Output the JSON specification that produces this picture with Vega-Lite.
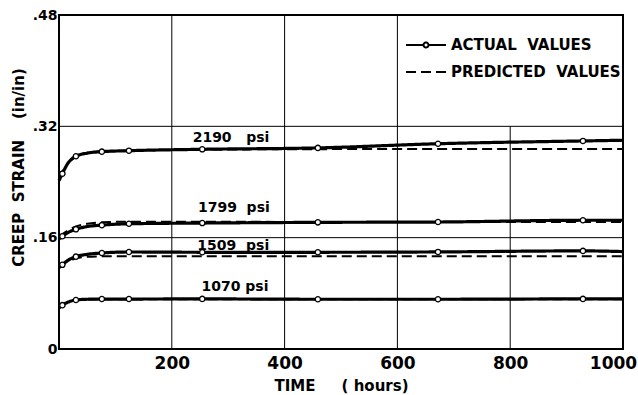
{
  "$schema": "https://vega.github.io/schema/vega-lite/v6.json",
  "width": 564,
  "height": 334,
  "autosize": "none",
  "padding": {"left": 59, "top": 15, "right": 15, "bottom": 46},
  "background": "white",
  "config": {
    "view": {"stroke": "black", "strokeWidth": 2},
    "font": "DejaVu Sans",
    "axis": {"labelFont": "DejaVu Sans", "labelFontWeight": "bold", "labelColor": "black", "titleFont": "DejaVu Sans", "titleFontWeight": "bold", "titleColor": "black", "domain": false, "ticks": false, "grid": false}
  },
  "datasets": {
    "grid": [
      {"xa": 200, "xb": 200, "ya": 0, "yb": 0.48},
      {"xa": 400, "xb": 400, "ya": 0, "yb": 0.48},
      {"xa": 600, "xb": 600, "ya": 0, "yb": 0.48},
      {"xa": 800, "xb": 800, "ya": 0, "yb": 0.32},
      {"xa": 0, "xb": 1000, "ya": 0.16, "yb": 0.16},
      {"xa": 0, "xb": 1000, "ya": 0.32, "yb": 0.32}
    ],
    "curves": [
      {"stress": "2190", "type": "ACTUAL VALUES", "t": 0, "strain": 0.242, "obs": false},
      {"stress": "2190", "type": "ACTUAL VALUES", "t": 6, "strain": 0.252, "obs": true},
      {"stress": "2190", "type": "ACTUAL VALUES", "t": 15, "strain": 0.266, "obs": false},
      {"stress": "2190", "type": "ACTUAL VALUES", "t": 30, "strain": 0.277, "obs": true},
      {"stress": "2190", "type": "ACTUAL VALUES", "t": 50, "strain": 0.2815, "obs": false},
      {"stress": "2190", "type": "ACTUAL VALUES", "t": 76, "strain": 0.2836, "obs": true},
      {"stress": "2190", "type": "ACTUAL VALUES", "t": 124, "strain": 0.285, "obs": true},
      {"stress": "2190", "type": "ACTUAL VALUES", "t": 254, "strain": 0.287, "obs": true},
      {"stress": "2190", "type": "ACTUAL VALUES", "t": 459, "strain": 0.289, "obs": true},
      {"stress": "2190", "type": "ACTUAL VALUES", "t": 672, "strain": 0.295, "obs": true},
      {"stress": "2190", "type": "ACTUAL VALUES", "t": 929, "strain": 0.299, "obs": true},
      {"stress": "2190", "type": "ACTUAL VALUES", "t": 1000, "strain": 0.300, "obs": false},
      {"stress": "2190", "type": "PREDICTED VALUES", "t": 0, "strain": 0.245, "obs": false},
      {"stress": "2190", "type": "PREDICTED VALUES", "t": 15, "strain": 0.266, "obs": false},
      {"stress": "2190", "type": "PREDICTED VALUES", "t": 30, "strain": 0.276, "obs": false},
      {"stress": "2190", "type": "PREDICTED VALUES", "t": 50, "strain": 0.282, "obs": false},
      {"stress": "2190", "type": "PREDICTED VALUES", "t": 76, "strain": 0.284, "obs": false},
      {"stress": "2190", "type": "PREDICTED VALUES", "t": 124, "strain": 0.285, "obs": false},
      {"stress": "2190", "type": "PREDICTED VALUES", "t": 254, "strain": 0.2865, "obs": false},
      {"stress": "2190", "type": "PREDICTED VALUES", "t": 459, "strain": 0.2872, "obs": false},
      {"stress": "2190", "type": "PREDICTED VALUES", "t": 700, "strain": 0.2875, "obs": false},
      {"stress": "2190", "type": "PREDICTED VALUES", "t": 1000, "strain": 0.2875, "obs": false},
      {"stress": "1799", "type": "ACTUAL VALUES", "t": 0, "strain": 0.158, "obs": false},
      {"stress": "1799", "type": "ACTUAL VALUES", "t": 6, "strain": 0.162, "obs": true},
      {"stress": "1799", "type": "ACTUAL VALUES", "t": 15, "strain": 0.167, "obs": false},
      {"stress": "1799", "type": "ACTUAL VALUES", "t": 30, "strain": 0.172, "obs": true},
      {"stress": "1799", "type": "ACTUAL VALUES", "t": 50, "strain": 0.176, "obs": false},
      {"stress": "1799", "type": "ACTUAL VALUES", "t": 76, "strain": 0.178, "obs": true},
      {"stress": "1799", "type": "ACTUAL VALUES", "t": 124, "strain": 0.180, "obs": true},
      {"stress": "1799", "type": "ACTUAL VALUES", "t": 254, "strain": 0.181, "obs": true},
      {"stress": "1799", "type": "ACTUAL VALUES", "t": 459, "strain": 0.182, "obs": true},
      {"stress": "1799", "type": "ACTUAL VALUES", "t": 672, "strain": 0.1825, "obs": true},
      {"stress": "1799", "type": "ACTUAL VALUES", "t": 929, "strain": 0.185, "obs": true},
      {"stress": "1799", "type": "ACTUAL VALUES", "t": 1000, "strain": 0.185, "obs": false},
      {"stress": "1799", "type": "PREDICTED VALUES", "t": 0, "strain": 0.162, "obs": false},
      {"stress": "1799", "type": "PREDICTED VALUES", "t": 15, "strain": 0.170, "obs": false},
      {"stress": "1799", "type": "PREDICTED VALUES", "t": 30, "strain": 0.176, "obs": false},
      {"stress": "1799", "type": "PREDICTED VALUES", "t": 50, "strain": 0.180, "obs": false},
      {"stress": "1799", "type": "PREDICTED VALUES", "t": 76, "strain": 0.182, "obs": false},
      {"stress": "1799", "type": "PREDICTED VALUES", "t": 124, "strain": 0.183, "obs": false},
      {"stress": "1799", "type": "PREDICTED VALUES", "t": 254, "strain": 0.183, "obs": false},
      {"stress": "1799", "type": "PREDICTED VALUES", "t": 459, "strain": 0.1825, "obs": false},
      {"stress": "1799", "type": "PREDICTED VALUES", "t": 1000, "strain": 0.1825, "obs": false},
      {"stress": "1509", "type": "ACTUAL VALUES", "t": 0, "strain": 0.117, "obs": false},
      {"stress": "1509", "type": "ACTUAL VALUES", "t": 6, "strain": 0.121, "obs": true},
      {"stress": "1509", "type": "ACTUAL VALUES", "t": 15, "strain": 0.127, "obs": false},
      {"stress": "1509", "type": "ACTUAL VALUES", "t": 30, "strain": 0.1327, "obs": true},
      {"stress": "1509", "type": "ACTUAL VALUES", "t": 50, "strain": 0.136, "obs": false},
      {"stress": "1509", "type": "ACTUAL VALUES", "t": 76, "strain": 0.138, "obs": true},
      {"stress": "1509", "type": "ACTUAL VALUES", "t": 124, "strain": 0.1394, "obs": true},
      {"stress": "1509", "type": "ACTUAL VALUES", "t": 254, "strain": 0.139, "obs": true},
      {"stress": "1509", "type": "ACTUAL VALUES", "t": 459, "strain": 0.139, "obs": true},
      {"stress": "1509", "type": "ACTUAL VALUES", "t": 672, "strain": 0.1395, "obs": true},
      {"stress": "1509", "type": "ACTUAL VALUES", "t": 929, "strain": 0.141, "obs": true},
      {"stress": "1509", "type": "ACTUAL VALUES", "t": 1000, "strain": 0.140, "obs": false},
      {"stress": "1509", "type": "PREDICTED VALUES", "t": 0, "strain": 0.118, "obs": false},
      {"stress": "1509", "type": "PREDICTED VALUES", "t": 15, "strain": 0.126, "obs": false},
      {"stress": "1509", "type": "PREDICTED VALUES", "t": 30, "strain": 0.130, "obs": false},
      {"stress": "1509", "type": "PREDICTED VALUES", "t": 50, "strain": 0.1325, "obs": false},
      {"stress": "1509", "type": "PREDICTED VALUES", "t": 76, "strain": 0.1332, "obs": false},
      {"stress": "1509", "type": "PREDICTED VALUES", "t": 124, "strain": 0.1334, "obs": false},
      {"stress": "1509", "type": "PREDICTED VALUES", "t": 1000, "strain": 0.1334, "obs": false},
      {"stress": "1070", "type": "ACTUAL VALUES", "t": 0, "strain": 0.059, "obs": false},
      {"stress": "1070", "type": "ACTUAL VALUES", "t": 6, "strain": 0.063, "obs": true},
      {"stress": "1070", "type": "ACTUAL VALUES", "t": 15, "strain": 0.067, "obs": false},
      {"stress": "1070", "type": "ACTUAL VALUES", "t": 30, "strain": 0.0704, "obs": true},
      {"stress": "1070", "type": "ACTUAL VALUES", "t": 50, "strain": 0.0715, "obs": false},
      {"stress": "1070", "type": "ACTUAL VALUES", "t": 76, "strain": 0.0718, "obs": true},
      {"stress": "1070", "type": "ACTUAL VALUES", "t": 124, "strain": 0.0718, "obs": true},
      {"stress": "1070", "type": "ACTUAL VALUES", "t": 254, "strain": 0.072, "obs": true},
      {"stress": "1070", "type": "ACTUAL VALUES", "t": 459, "strain": 0.0715, "obs": true},
      {"stress": "1070", "type": "ACTUAL VALUES", "t": 672, "strain": 0.0715, "obs": true},
      {"stress": "1070", "type": "ACTUAL VALUES", "t": 929, "strain": 0.072, "obs": true},
      {"stress": "1070", "type": "ACTUAL VALUES", "t": 1000, "strain": 0.072, "obs": false},
      {"stress": "1070", "type": "PREDICTED VALUES", "t": 0, "strain": 0.061, "obs": false},
      {"stress": "1070", "type": "PREDICTED VALUES", "t": 15, "strain": 0.067, "obs": false},
      {"stress": "1070", "type": "PREDICTED VALUES", "t": 30, "strain": 0.070, "obs": false},
      {"stress": "1070", "type": "PREDICTED VALUES", "t": 76, "strain": 0.0715, "obs": false},
      {"stress": "1070", "type": "PREDICTED VALUES", "t": 1000, "strain": 0.0715, "obs": false}
    ],
    "labels": [
      {"t": 305, "strain": 0.303, "text": "2190\u00a0\u00a0\u00a0psi"},
      {"t": 310, "strain": 0.2026, "text": "1799\u00a0\u00a0psi"},
      {"t": 309, "strain": 0.148, "text": "1509\u00a0\u00a0psi"},
      {"t": 312, "strain": 0.089, "text": "1070 psi"}
    ]
  },
  "layer": [
    {
      "data": {"name": "grid"},
      "mark": {"type": "rule", "color": "black", "strokeWidth": 1},
      "encoding": {
        "x": {"field": "xa", "type": "quantitative", "scale": {"domain": [0, 1000], "nice": false}, "axis": {"values": [200, 400, 600, 800, 1000], "format": "d", "labelFontSize": 17, "labelPadding": 6, "labelFlush": false, "labelOffset": {"condition": {"test": "datum.value == 1000", "value": -10}, "value": 0}, "title": "TIME\u00a0\u00a0\u00a0\u00a0\u00a0(\u00a0hours)", "titleFontSize": 15, "titlePadding": 7}},
        "x2": {"field": "xb"},
        "y": {"field": "ya", "type": "quantitative", "scale": {"domain": [0, 0.48], "nice": false}, "axis": {"values": [0, 0.16, 0.32, 0.48], "labelExpr": "datum.value == 0 ? '0' : replace(format(datum.value, '.2f'), '0.', '.')", "labelFontSize": 14, "labelPadding": 2, "title": "CREEP\u00a0\u00a0STRAIN\u00a0\u00a0\u00a0\u00a0(in/in)", "titleFontSize": 15, "titleX": -41, "titleY": 152, "titleAngle": -90, "titleBaseline": "middle", "titleAlign": "center"}},
        "y2": {"field": "yb"}
      }
    },
    {
      "data": {"name": "curves"},
      "transform": [{"filter": "datum.type == 'ACTUAL VALUES'"}],
      "mark": {"type": "line", "interpolate": "monotone", "color": "black", "strokeWidth": 3.2},
      "encoding": {
        "x": {"field": "t", "type": "quantitative"},
        "y": {"field": "strain", "type": "quantitative"},
        "detail": {"field": "stress"},
        "strokeDash": {"field": "type", "type": "nominal", "scale": {"domain": ["ACTUAL VALUES", "PREDICTED VALUES"], "range": [[1, 0], [10, 5]]},
          "legend": {"title": null, "orient": "none", "legendX": 356, "legendY": 19, "symbolSize": 400, "symbolStrokeWidth": 2, "symbolStrokeColor": "black", "labelFont": "DejaVu Sans", "labelFontWeight": "bold", "labelFontSize": 15, "labelColor": "black", "labelLimit": 300, "rowPadding": 8, "labelOffset": 14,
            "labelExpr": "datum.label == 'ACTUAL VALUES' ? 'ACTUAL\u00a0\u00a0VALUES' : 'PREDICTED\u00a0\u00a0VALUES'",
            "encode": {"symbols": {"update": {"shape": {"signal": "datum.value == 'ACTUAL VALUES' ? 'M-2,0H-0.25M0.25,0H2M-0.25,0A0.25,0.25 0 1,0 0.25,0A0.25,0.25 0 1,0 -0.25,0' : 'M-2,0H2'"}, "strokeWidth": {"value": 2}}}}}}
      }
    },
    {
      "data": {"name": "curves"},
      "transform": [{"filter": "datum.type == 'PREDICTED VALUES'"}],
      "mark": {"type": "line", "interpolate": "monotone", "color": "black", "strokeWidth": 2},
      "encoding": {
        "x": {"field": "t", "type": "quantitative"},
        "y": {"field": "strain", "type": "quantitative"},
        "detail": {"field": "stress"},
        "strokeDash": {"field": "type", "type": "nominal"}
      }
    },
    {
      "data": {"name": "curves"},
      "transform": [{"filter": "datum.obs"}],
      "mark": {"type": "point", "shape": "circle", "filled": true, "fill": "white", "stroke": "black", "strokeWidth": 1.3, "size": 28, "opacity": 1},
      "encoding": {
        "x": {"field": "t", "type": "quantitative"},
        "y": {"field": "strain", "type": "quantitative"}
      }
    },
    {
      "data": {"name": "labels"},
      "mark": {"type": "text", "font": "DejaVu Sans", "fontWeight": "bold", "fontSize": 14, "color": "black"},
      "encoding": {
        "x": {"field": "t", "type": "quantitative"},
        "y": {"field": "strain", "type": "quantitative"},
        "text": {"field": "text"}
      }
    }
  ]
}
